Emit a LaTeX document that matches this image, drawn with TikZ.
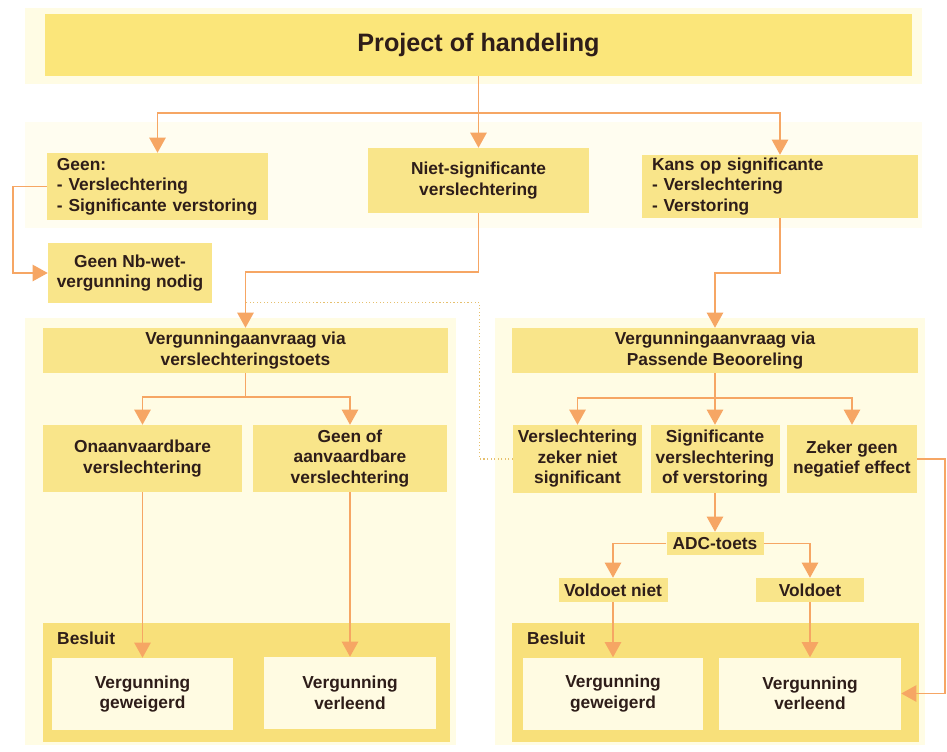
\documentclass[tikz,border=0pt]{standalone}
\usepackage{fontspec}
\setmainfont{Liberation Sans}
\usepackage{xcolor}
\usetikzlibrary{arrows.meta}
\definecolor{geel}{HTML}{F9E58A}
\definecolor{titelgeel}{HTML}{FBE67A}
\definecolor{besluitgeel}{HTML}{F8E07A}
\definecolor{bleek}{HTML}{FFFCE4}
\definecolor{room}{HTML}{FFFBE2}
\definecolor{oranje}{HTML}{F6A664}
\definecolor{stip}{HTML}{E6C06E}
\definecolor{inkt}{HTML}{2E1D19}
\tikzstyle{blok}    = [rectangle, fill=geel, text=inkt, inner sep=0pt, align=center,
                       font=\bfseries\fontsize{14.8}{17.5}\selectfont]
\tikzstyle{blokL}   = [blok, align=left, inner xsep=0.3cm]
\tikzstyle{titel}   = [blok, fill=titelgeel, font=\bfseries\fontsize{21.5}{25}\selectfont]
\tikzstyle{besluit} = [rectangle, fill=besluitgeel, minimum width=12.2cm, minimum height=3.57cm]
\tikzstyle{wit}     = [blok, fill=room, minimum height=2.16cm]
\tikzstyle{pijl}    = [draw=oranje, line width=1.5pt, -{Triangle[length=13pt,width=14pt]}]
\tikzstyle{stippel} = [draw=stip, line width=1pt, dotted]

\begin{document}
\begin{tikzpicture}[x=0.03cm, y=-0.03cm]
  \useasboundingbox (0,0) rectangle (947,751);
  \fill[white] (0,0) rectangle (947,751);
  \fill[bleek] (25,8) rectangle (922,84);
  \fill[bleek!55] (25,122) rectangle (922,228);
  \fill[bleek] (25,318) rectangle (456,745);
  \fill[bleek] (495,318) rectangle (925,745);

  \node (titel)   [titel, minimum width=26.01cm, minimum height=1.86cm] at (478.5,45) {Project of handeling};
  \node (geen)    [blokL, text width=6.03cm, minimum height=2.01cm] at (157.5,186.5) {Geen:\\- Verslechtering\\- Significante verstoring};
  \node (nietsig) [blok, minimum width=6.63cm, minimum height=1.95cm] at (478.5,180.5) {Niet-significante\\verslechtering};
  \node (kans)    [blokL, text width=7.68cm, minimum height=1.89cm] at (780,186.5) {Kans op significante\\- Verslechtering\\- Verstoring};
  \node (geennb)  [blok, minimum width=4.92cm, minimum height=1.8cm] at (130,273) {Geen Nb-wet-\\vergunning nodig};

  \node (toets)   [blok, minimum width=12.15cm, minimum height=1.35cm] at (245.5,350.5) {Vergunningaanvraag via\\verslechteringstoets};
  \node (passend) [blok, minimum width=12.15cm, minimum height=1.35cm] at (715,350.5) {Vergunningaanvraag via\\Passende Beooreling};

  \node (onaanv)  [blok, minimum width=5.97cm, minimum height=2.01cm] at (142.5,458.5) {Onaanvaardbare\\verslechtering};
  \node (aanv)    [blok, minimum width=5.82cm, minimum height=2.01cm] at (350,458.5) {Geen of\\aanvaardbare\\verslechtering};
  \node (zns)     [blok, minimum width=3.87cm, minimum height=2.04cm] at (577.5,459) {Verslechtering\\zeker niet\\significant};
  \node (sigvs)   [blok, minimum width=3.87cm, minimum height=2.04cm] at (715,459) {Significante\\verslechtering\\of verstoring};
  \node (zeker)   [blok, minimum width=3.9cm, minimum height=2.04cm] at (852,459) {Zeker geen\\negatief effect};

  \node (adc)     [blok, minimum width=2.91cm, minimum height=0.69cm] at (715,543.5) {ADC-toets};
  \node (vnniet)  [blok, minimum width=3.27cm, minimum height=0.72cm] at (613,590) {Voldoet niet};
  \node (voldoet) [blok, minimum width=3.24cm, minimum height=0.72cm] at (810,590) {Voldoet};

  \node (besluitL) [besluit] at (246.5,682.5) {};
  \node (besluitR) [besluit] at (715.5,682.5) {};
  \node (lblL) [blok, fill=none, anchor=west] at (57,638) {Besluit};
  \node (lblR) [blok, fill=none, anchor=west] at (527,638) {Besluit};
  \node (geweigL) [wit, minimum width=5.43cm] at (142.5,694) {Vergunning\\geweigerd};
  \node (verlL)   [wit, minimum width=5.16cm] at (350,693) {Vergunning\\verleend};
  \node (geweigR) [wit, minimum width=5.4cm] at (613,693.5) {Vergunning\\geweigerd};
  \node (verlR)   [wit, minimum width=5.46cm] at (810,693.5) {Vergunning\\verleend};

  \draw [pijl] (titel.south) -- (nietsig.north);
  \draw [pijl] (titel.south) -- ++(0,37) -| (geen.north);
  \draw [pijl] (titel.south) -- ++(0,37) -| (kans.north);
  \draw [pijl] (geen.west) -- ++(-34,0) |- (geennb.west);
  \draw [pijl] (nietsig.south) -- ++(0,59) -| (toets.north);
  \draw [pijl] (kans.south) -- ++(0,55) -| (passend.north);

  \draw [pijl] (toets.south) -- ++(0,24) -| (onaanv.north);
  \draw [pijl] (toets.south) -- ++(0,24) -| (aanv.north);
  \draw [pijl] (passend.south) -- ++(0,25) -| (zns.north);
  \draw [pijl] (passend.south) -- (sigvs.north);
  \draw [pijl] (passend.south) -- ++(0,25) -| (zeker.north);

  \draw [pijl] (onaanv.south) -- (geweigL.north);
  \draw [pijl] (aanv.south) -- (verlL.north);
  \draw [pijl] (sigvs.south) -- (adc.north);
  \draw [pijl] (adc.west) -| (vnniet.north);
  \draw [pijl] (adc.east) -| (voldoet.north);
  \draw [pijl] (vnniet.south) -- (geweigR.north);
  \draw [pijl] (voldoet.south) -- (verlR.north);
  \draw [pijl] (zeker.east) -- ++(28,0) |- (verlR.east);

  \path (toets.north) ++(0,-25) coordinate (kruis);
  \draw [stippel] (zns.west) -- ++(-33,0) |- (kruis);
\end{tikzpicture}
\end{document}
